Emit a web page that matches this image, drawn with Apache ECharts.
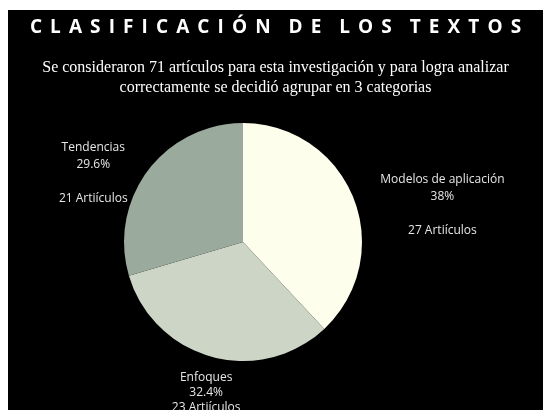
<!DOCTYPE html>
<html>
<head>
<meta charset="utf-8">
<style>
    body { margin: 0; background: #fff; }
    #main { position: absolute; left: 8px; top: 10px; width: 535px; height: 400px; background: #000; }
</style>
</head>
<body>
<div id="main"></div>
<script src="https://cdn.jsdelivr.net/npm/echarts@6/dist/echarts.min.js"></script>
<script type="text/javascript">
    // datos del grafico
    var categorias = ['Modelos de aplicación', 'Enfoques', 'Tendencias'];
    var articulos = [27, 23, 21];
    var colores = ['#fefeec', '#ccd5c6', '#9aaa9d'];

    var tituloTexto = 'CLASIFICACIÓN DE LOS TEXTOS';
    var subtitulo = 'Se consideraron 71 artículos para esta investigación y para logra analizar\ncorrectamente se decidió agrupar en 3 categorias';

    // espaciado de letras del titulo (espacio + espacio fino)
    var tituloEspaciado = tituloTexto.split(' ').map(function (w) {
        return w.split('').join(' \u2009');
    }).join('   \u2009');

    // ajuste de las etiquetas [dx, dy]
    var ajusteEtiquetas = [[-5, 14], [47, 16], [9, 14]];

    var pieData = [];
    for (var i = 0; i < categorias.length; i++) {
        pieData.push({ name: categorias[i], value: articulos[i], itemStyle: { color: colores[i] } });
    }
    // la etiqueta de abajo no lleva linea en blanco
    pieData[1].label = { formatter: '{b}\n{d}%\n{c} Artiículos', lineHeight: 15 };

    var myChart = echarts.init(document.getElementById('main'));

    var option = {
        backgroundColor: '#000',
        title: [{
            text: tituloEspaciado,
            left: 'center',
            top: 3,
            textStyle: {
                color: '#fff',
                fontFamily: 'Open Sans',
                fontWeight: 'bold',
                fontSize: 19
            }
        }, {
            text: subtitulo,
            left: 'center',
            top: 43,
            textStyle: {
                color: '#fff',
                fontFamily: 'Liberation Serif',
                fontWeight: 'normal',
                fontSize: 16,
                lineHeight: 20
            }
        }],
        series: [{
            name: 'Clasificación',
            type: 'pie',
            center: [235, 232],
            radius: 119,
            startAngle: 90,
            clockwise: true,
            percentPrecision: 1,
            itemStyle: { borderWidth: 0 },
            label: {
                show: true,
                position: 'outside',
                formatter: '{b}\n{d}%\n\n{c} Artiículos',
                color: '#e6e6e6',
                fontFamily: 'Open Sans',
                fontSize: 12,
                lineHeight: 17
            },
            labelLine: { show: false, length: 20, length2: 8 },
            labelLayout: function (p) {
                var r = p.labelRect;
                var a = ajusteEtiquetas[p.dataIndex];
                return {
                    x: r.x + r.width / 2 + a[0],
                    y: r.y + r.height / 2 + a[1],
                    align: 'center',
                    verticalAlign: 'middle'
                };
            },
            emphasis: { disabled: true },
            data: pieData
        }]
    };
    myChart.setOption(option);
</script>
</body>
</html>
